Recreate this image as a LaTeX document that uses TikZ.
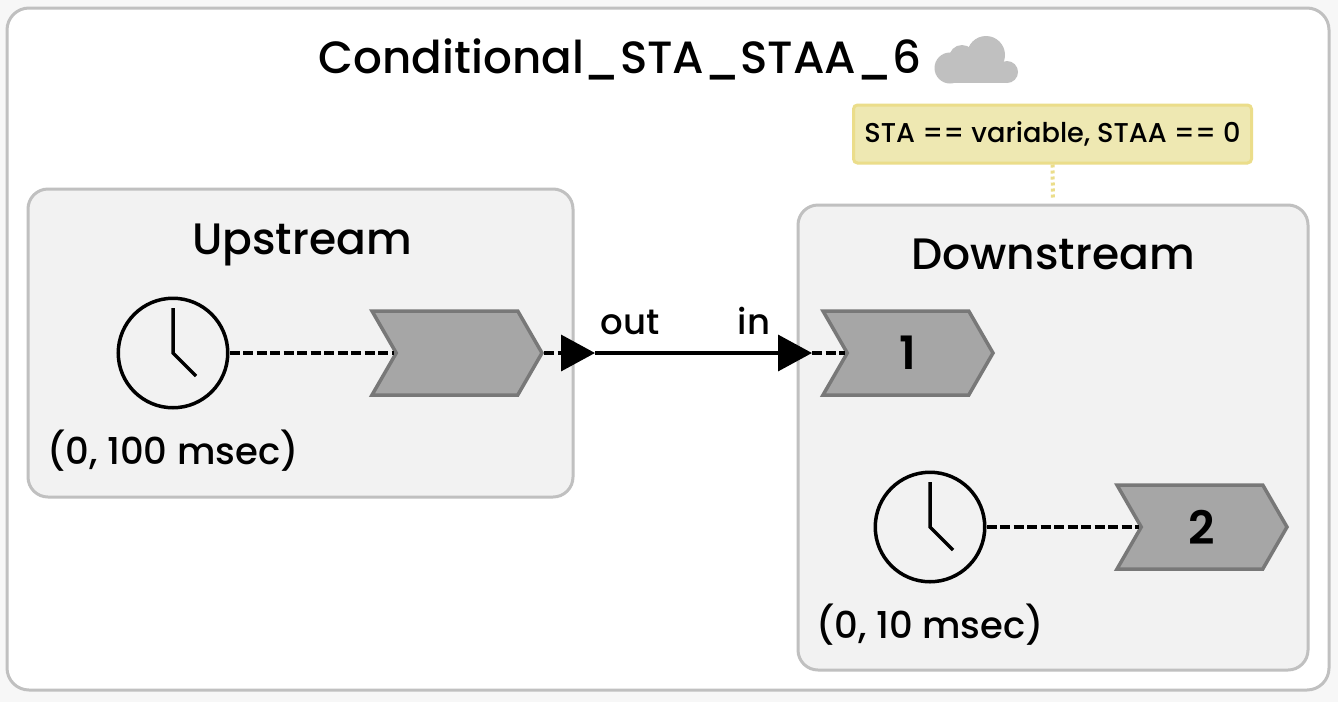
\documentclass[tikz,border=0pt]{standalone}
\usepackage{fontspec}
\setmainfont{Poppins Medium}[BoldFont={Poppins SemiBold}]
\usetikzlibrary{arrows.meta,shapes.symbols}
\definecolor{pagegray}{HTML}{F7F7F7}
\definecolor{framegray}{HTML}{C0C0C0}
\definecolor{boxfill}{HTML}{F2F2F2}
\definecolor{portfill}{HTML}{A6A6A6}
\definecolor{portline}{HTML}{787878}
\definecolor{notefill}{HTML}{EEE8B2}
\definecolor{noteline}{HTML}{EBDD8A}
\tikzset{
	framebox/.style={draw=framegray,line width=3pt,rounded corners=22pt,fill=white,minimum width=1322pt,minimum height=682pt},
	groupbox/.style={draw=framegray,line width=3pt,rounded corners=20pt,fill=boxfill},
	portbox/.style={shape=signal,signal to=east,signal from=west,signal pointer angle=120,draw=portline,fill=portfill,line width=3.5pt,minimum width=170pt,minimum height=84pt,inner sep=0pt,font=\fontsize{46}{46}\selectfont\bfseries},
	clockface/.style={shape=circle,draw=black,line width=3.5pt,minimum size=109.5pt,inner sep=0pt,path picture={
		\draw[line width=3.5pt] ([yshift=45pt]path picture bounding box.center)--(path picture bounding box.center)--++(23pt,-23pt);}},
	titletext/.style={anchor=base,inner sep=0pt,font=\fontsize{45.2}{45.2}\selectfont},
	bigtext/.style={anchor=base,inner sep=0pt,font=\fontsize{44}{44}\selectfont},
	midtext/.style={anchor=base,inner sep=0pt,font=\fontsize{37}{37}\selectfont},
	smalltext/.style={anchor=base,inner sep=0pt,font=\fontsize{35.5}{35.5}\selectfont},
	notetext/.style={draw=noteline,fill=notefill,line width=3pt,rounded corners=4pt,minimum width=398pt,minimum height=58pt,inner sep=0pt,font=\fontsize{27.2}{27.2}\selectfont},
	dashwire/.style={line width=3.5pt,dash pattern=on 10pt off 3.5pt},
	solidwire/.style={line width=3.5pt},
	tip/.style={-{Triangle[length=34pt,width=36pt]}},
}
\begin{document}
\begin{tikzpicture}[x=1pt,y=-1pt]
	\useasboundingbox (0,0) rectangle (1338,702);
	\fill[pagegray] (0,0) rectangle (1338,702);
	\node[framebox] (frame) at (668,349) {};
	\node[titletext] (title) at (620,73) {Conditional\_STA\_STAA\_6};
	% cloud
	\foreach \cx/\cy/\cr in {950/68/15.5,962/58/13,986/55/19,1007/72/11}
		\fill[framegray] (\cx,\cy) circle (\cr);
	\fill[framegray] (950,64) rectangle (1007,83);

	\node[groupbox,minimum width=545pt,minimum height=308pt] (upstream) at (300.5,343) {};
	\node[groupbox,minimum width=510pt,minimum height=465pt] (downstream) at (1053,437.5) {};
	\node[bigtext] (uplabel) at (302,254) {Upstream};
	\node[bigtext] (downlabel) at (1053,269) {Downstream};

	\node[notetext] (note) at (1052.5,134) {STA == variable, STAA == 0};
	\draw[noteline,line width=4pt,dash pattern=on 3pt off 3pt,shorten >=6pt] (note.south)--(downstream.north);

	\node[clockface] (upclock) at (173,353) {};
	\node[midtext] (uptime) at (173,464) {(0, 100 msec)};
	\node[portbox] (upport) at (457,353) {};

	\node[clockface] (downclock) at (930,527) {};
	\node[midtext] (downtime) at (930,638) {(0, 10 msec)};
	\node[portbox] (portone) at (908,353) {1};
	\node[portbox] (porttwo) at (1202,527) {2};

	\coordinate (outend) at (595,353);
	\coordinate (inend) at (812,353);
	\draw[dashwire] (upclock)--(upport.west);
	\draw[dashwire] (downclock)--(porttwo.west);
	\draw[dashwire] (inend)--(portone.west);
	\draw[dashwire,tip] (upport.east)--(outend);
	\draw[solidwire,tip] (outend)--(inend);
	\node[smalltext] (outlabel) at (630,334) {out};
	\node[smalltext] (inlabel) at (754,334) {in};
\end{tikzpicture}
\end{document}
